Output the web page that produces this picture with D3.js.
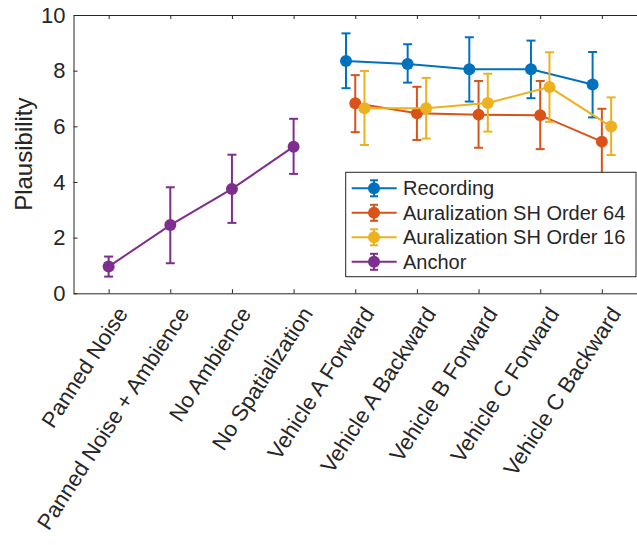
<!DOCTYPE html>
<html lang="en">
<head>
  <meta charset="UTF-8" />
  <title>Plausibility</title>
  <script src="https://d3js.org/d3.v7.min.js"></script>
  <style>
    body { margin: 0; background: white; }
    svg text { font-family: "Liberation Sans", Arial, Helvetica, sans-serif; fill: #262626; }
  </style>
</head>
<body>
  <svg width="637" height="545"></svg>

  <script>
    // Data
    const categories = ["Panned Noise", "Panned Noise + Ambience", "No Ambience", "No Spatialization",
      "Vehicle A Forward", "Vehicle A Backward", "Vehicle B Forward", "Vehicle C Forward", "Vehicle C Backward"];
    const yTicks = [0, 2, 4, 6, 8, 10];

    const recordingMean = [8.35, 8.24, 8.05, 8.05, 7.50];
    const recordingHi   = [9.34, 8.95, 9.20, 9.08, 8.67];
    const recordingLo   = [7.37, 7.57, 6.89, 7.01, 6.32];

    const order64Mean = [6.83, 6.47, 6.42, 6.40, 5.45];
    const order64Hi   = [7.84, 7.42, 7.63, 7.63, 6.63];
    const order64Lo   = [5.79, 5.51, 5.23, 5.18, 4.27];

    const order16Mean = [6.65, 6.65, 6.84, 7.41, 5.99];
    const order16Hi   = [7.99, 7.74, 7.89, 8.66, 7.04];
    const order16Lo   = [5.33, 5.56, 5.81, 6.16, 4.97];

    const anchorMean = [0.96, 2.45, 3.75, 5.27];
    const anchorHi   = [1.32, 3.81, 4.98, 6.27];
    const anchorLo   = [0.60, 1.08, 2.53, 4.29];

    const series = [
      { name: "Recording", color: "#0072BD", start: 5, offset: -0.15, mean: recordingMean, hi: recordingHi, lo: recordingLo },
      { name: "Auralization SH Order 64", color: "#D95319", start: 5, offset: 0, mean: order64Mean, hi: order64Hi, lo: order64Lo },
      { name: "Auralization SH Order 16", color: "#EDB120", start: 5, offset: 0.15, mean: order16Mean, hi: order16Hi, lo: order16Lo },
      { name: "Anchor", color: "#7E2F8E", start: 1, offset: 0, mean: anchorMean, hi: anchorHi, lo: anchorLo }
    ];

    const svg = d3.select("svg");
    const axisColor = "#262626";

    const x = d3.scaleLinear().domain([0.43, 9.57]).range([73.5, 637]);
    const y = d3.scaleLinear().domain([0, 10]).range([293.3, 15]);

    // Axes (ticks pointing inward, like MATLAB)
    const xAxis = svg.append("g")
      .attr("transform", `translate(0,${y(0)})`)
      .call(d3.axisBottom(x).tickValues(d3.range(1, 10)).tickFormat(i => categories[i - 1])
        .tickSizeInner(-4).tickSizeOuter(0));

    xAxis.selectAll("text")
      .attr("x", 0).attr("y", 0).attr("dy", "0.35em")
      .attr("text-anchor", "end")
      .attr("transform", "translate(13,16) rotate(-57)")
      .style("font-size", "22px");

    svg.append("g")
      .attr("transform", `translate(0,${y(10)})`)
      .call(d3.axisTop(x).tickValues(d3.range(1, 10)).tickFormat("").tickSizeInner(-4).tickSizeOuter(0));

    svg.append("g")
      .attr("transform", `translate(${x.range()[0]},0)`)
      .call(d3.axisLeft(y).tickValues(yTicks).tickSizeInner(-4).tickSizeOuter(0).tickPadding(8))
      .selectAll("text").style("font-size", "22px");

    svg.selectAll(".domain, .tick line").attr("stroke", axisColor);
    svg.selectAll(".tick text").attr("fill", axisColor);

    // Y label
    svg.append("text")
      .attr("transform", `translate(32,${(y(0) + y(10)) / 2}) rotate(-90)`)
      .attr("text-anchor", "middle")
      .style("font-size", "24px")
      .text("Plausibility");

    // Series
    const capW = 4.5;
    series.forEach(s => {
      const pts = s.mean.map((m, i) => ({ xv: s.start + i + s.offset, m, hi: s.hi[i], lo: s.lo[i] }));
      const g = svg.append("g");

      g.append("path")
        .datum(pts)
        .attr("fill", "none")
        .attr("stroke", s.color)
        .attr("stroke-width", 2)
        .attr("d", d3.line().x(d => x(d.xv)).y(d => y(d.m)));

      pts.forEach(d => {
        const cx = x(d.xv);
        g.append("line").attr("x1", cx).attr("x2", cx).attr("y1", y(d.lo)).attr("y2", y(d.hi))
          .attr("stroke", s.color).attr("stroke-width", 2);
        [d.lo, d.hi].forEach(v => {
          g.append("line").attr("x1", cx - capW).attr("x2", cx + capW).attr("y1", y(v)).attr("y2", y(v))
            .attr("stroke", s.color).attr("stroke-width", 2);
        });
        g.append("circle").attr("cx", cx).attr("cy", y(d.m)).attr("r", 6).attr("fill", s.color);
      });
    });

    // Legend
    const legend = svg.append("g");
    legend.append("rect")
      .attr("x", 345.7).attr("y", 172.3).attr("width", 290.3).attr("height", 104.4)
      .attr("fill", "white").attr("stroke", axisColor).attr("stroke-width", 1);

    series.forEach((s, i) => {
      const ly = 188.3 + i * 24.5;
      const row = legend.append("g");
      row.append("line").attr("x1", 351.7).attr("x2", 396.7).attr("y1", ly).attr("y2", ly)
        .attr("stroke", s.color).attr("stroke-width", 2);
      row.append("line").attr("x1", 374).attr("x2", 374).attr("y1", ly - 8).attr("y2", ly + 8)
        .attr("stroke", s.color).attr("stroke-width", 2);
      [ly - 8, ly + 8].forEach(v => {
        row.append("line").attr("x1", 370).attr("x2", 378).attr("y1", v).attr("y2", v)
          .attr("stroke", s.color).attr("stroke-width", 2);
      });
      row.append("circle").attr("cx", 374).attr("cy", ly).attr("r", 6).attr("fill", s.color);
      row.append("text").attr("x", 403).attr("y", ly).attr("dy", "0.35em")
        .style("font-size", "20px").text(s.name);
    });
  </script>
</body>
</html>
